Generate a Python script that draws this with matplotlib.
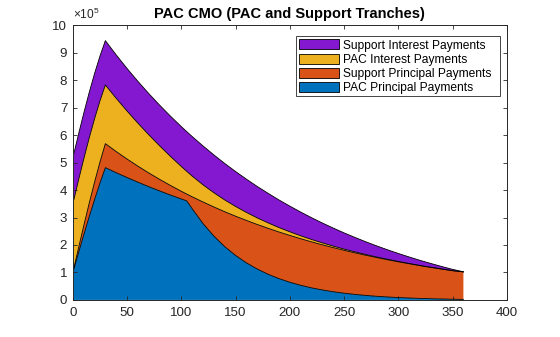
import numpy as np
import matplotlib
matplotlib.use("Agg")
import matplotlib.pyplot as plt
from matplotlib.patches import Patch, Rectangle
from matplotlib.ticker import FixedLocator, FuncFormatter

plt.rcParams["font.family"] = ["Liberation Sans", "DejaVu Sans"]
plt.rcParams["mathtext.fontset"] = "custom"
plt.rcParams["mathtext.rm"] = "Liberation Sans"
plt.rcParams["mathtext.it"] = "Liberation Sans:italic"
plt.rcParams["mathtext.bf"] = "Liberation Sans:bold"

# Monthly cash flows of the PAC CMO (dollars)
months = [1, 5, 10, 15, 20, 25, 30, 40, 50, 60, 70, 80, 90, 100, 105, 110, 120,
          130, 140, 150, 160, 170, 180, 190, 200, 210, 220, 230, 240, 250, 260,
          270, 280, 290, 300, 310, 320, 330, 340, 350, 360]

pac_principal = [112900, 167900, 235700, 301600, 365000, 425300, 481700,
                 463300, 445700, 428700, 412500, 396900, 382000, 367600,
                 360700, 332300, 278100, 232500, 194100, 162000, 135100,
                 112400, 93500, 77600, 64400, 53300, 44000, 36300, 29900,
                 24500, 20100, 16400, 13300, 10800, 8700, 7000, 5500, 4400,
                 3400, 2600, 2000]

support_principal = [3300, 16600, 32900, 48500, 63000, 76100, 87400, 77000,
                     67300, 58300, 49900, 42100, 34800, 28000, 24800, 43300,
                     78500, 106000, 127100, 142900, 154400, 162300, 167300,
                     169800, 170500, 169600, 167500, 164400, 160600, 156200,
                     151400, 146300, 141000, 135600, 130200, 124800, 119400,
                     114100, 109000, 103900, 100100]

pac_interest = [249600, 247400, 243300, 237800, 231000, 222900, 213600,
                193800, 174900, 156600, 139100, 122200, 105900, 90300, 82700,
                75400, 62600, 51900, 42900, 35500, 29200, 24000, 19700, 16100,
                13200, 10700, 8700, 7000, 5600, 4400, 3500, 2700, 2100, 1600,
                1200, 900, 600, 400, 200, 100, 0]

support_interest = [167100, 166900, 166500, 165700, 164500, 163100, 161400,
                    158000, 154900, 152300, 150000, 148100, 146500, 145200,
                    144600, 144000, 141500, 137700, 132800, 127200, 121000,
                    114400, 107600, 100600, 93500, 86400, 79300, 72400, 65600,
                    59000, 52600, 46400, 40400, 34600, 29100, 23700, 18600,
                    13800, 9100, 4700, 400]

series_names = ["PAC Principal Payments", "Support Principal Payments",
                "PAC Interest Payments", "Support Interest Payments"]
series_colors = ["#0072BD", "#D95319", "#EDB120", "#8418D0"]

x_ticks = [0, 50, 100, 150, 200, 250, 300, 350, 400]
y_ticks = [0, 1e5, 2e5, 3e5, 4e5, 5e5, 6e5, 7e5, 8e5, 9e5, 10e5]

axis_color = "#262626"

fig = plt.figure(figsize=(5.6, 3.37), dpi=100)
ax = fig.add_axes([0.13, 0.11, 0.775, 0.815])

x = np.asarray(months, dtype=float)
layers = np.array([pac_principal, support_principal, pac_interest,
                   support_interest], dtype=float)
tops = np.cumsum(layers, axis=0)
bottoms = np.vstack([np.zeros_like(x), tops[:-1]])

for lo, hi, col in zip(bottoms, tops, series_colors):
    ax.fill_between(x, lo, hi, facecolor=col, edgecolor="none", linewidth=0)
for hi in tops:
    ax.plot(x, hi, color="black", linewidth=0.6)

ax.set_xlim(0, 400)
ax.set_ylim(0, 1e6)
ax.xaxis.set_major_locator(FixedLocator(x_ticks))
ax.yaxis.set_major_locator(FixedLocator(y_ticks))
ax.yaxis.set_major_formatter(FuncFormatter(lambda v, p: f"{v / 1e5:g}"))

ax.tick_params(direction="in", top=True, right=True, length=3.2, width=0.6,
               colors=axis_color, labelsize=9.6, labelcolor=axis_color)
ax.tick_params(axis="x", pad=5)
ax.tick_params(axis="y", pad=4)
for sp in ax.spines.values():
    sp.set_color(axis_color)
    sp.set_linewidth(0.7)

ax.text(0.0, 1.012, r"$\mathregular{\times10^{5}}$", transform=ax.transAxes,
        ha="left", va="bottom", fontsize=8.6, color=axis_color)

ax.set_title("PAC CMO (PAC and Support Tranches)", fontsize=10.56,
             fontweight="bold", color="black", pad=5.5)

# legend frame and entries
frame = Rectangle((296 / 560, 1 - 96 / 337), 204 / 560, 60 / 337,
                  transform=fig.transFigure, facecolor="white",
                  edgecolor=axis_color, linewidth=0.6, zorder=4)
ax.add_artist(frame)
frame.set_clip_on(False)

handles = [Patch(facecolor=c, edgecolor="black", linewidth=0.6)
           for c in series_colors][::-1]
leg = ax.legend(handles, series_names[::-1], loc="upper left",
                bbox_to_anchor=(296 / 560, 1 - 36.5 / 337),
                bbox_transform=fig.transFigure, fontsize=8.64, frameon=False,
                handlelength=3.35, handleheight=0.9, handletextpad=0.33,
                labelspacing=0.17, borderpad=0.25, borderaxespad=0)
leg.set_zorder(5)
for t in leg.get_texts():
    t.set_color("black")

fig.savefig("out.png", dpi=100)
